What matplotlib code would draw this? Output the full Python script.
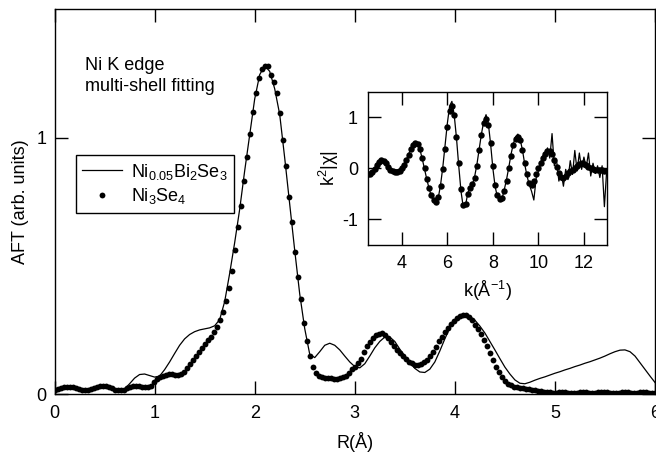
import numpy as np
import matplotlib
matplotlib.use("Agg")
import matplotlib.pyplot as plt

plt.rcParams['font.family'] = ['Liberation Sans', 'DejaVu Sans']
plt.rcParams['mathtext.default'] = 'regular'
plt.rcParams['axes.unicode_minus'] = False

# Fourier transform magnitude, Ni3Se4 (dots, step 0.03 A)
aft_dots = [
    0.015, 0.018, 0.022, 0.026, 0.028, 0.028, 0.026, 0.022, 0.018, 0.015,
    0.014, 0.015, 0.018, 0.023, 0.028, 0.032, 0.033, 0.031, 0.027, 0.022,
    0.017, 0.014, 0.014, 0.017, 0.022, 0.027, 0.031, 0.032, 0.031, 0.028,
    0.026, 0.027, 0.033, 0.045, 0.057, 0.066, 0.072, 0.075, 0.077, 0.077,
    0.076, 0.076, 0.079, 0.087, 0.100, 0.118, 0.133, 0.148, 0.163, 0.180,
    0.196, 0.210, 0.224, 0.240, 0.260, 0.288, 0.320, 0.362, 0.415, 0.480,
    0.560, 0.650, 0.735, 0.830, 0.925, 1.012, 1.100, 1.175, 1.232, 1.266,
    1.280, 1.278, 1.245, 1.215, 1.175, 1.095, 0.990, 0.890, 0.770, 0.670,
    0.555, 0.455, 0.370, 0.275, 0.205, 0.148, 0.105, 0.083, 0.072, 0.067,
    0.064, 0.062, 0.061, 0.060, 0.060, 0.061, 0.065, 0.072, 0.083, 0.096,
    0.107, 0.120, 0.138, 0.163, 0.186, 0.204, 0.218, 0.229, 0.235, 0.236,
    0.229, 0.217, 0.202, 0.187, 0.172, 0.159, 0.147, 0.136, 0.126, 0.119,
    0.115, 0.113, 0.116, 0.123, 0.134, 0.148, 0.165, 0.184, 0.205, 0.224,
    0.242, 0.258, 0.273, 0.285, 0.296, 0.304, 0.309, 0.308, 0.300, 0.287,
    0.270, 0.253, 0.235, 0.212, 0.188, 0.160, 0.132, 0.106, 0.084, 0.066,
    0.051, 0.041, 0.034, 0.029, 0.026, 0.024, 0.022, 0.020, 0.018, 0.016,
    0.014, 0.012, 0.010, 0.009, 0.007, 0.006, 0.005, 0.005, 0.006, 0.007,
    0.006, 0.005, 0.004, 0.004, 0.005, 0.006, 0.007, 0.006, 0.005, 0.004,
    0.005, 0.006, 0.007, 0.007, 0.006, 0.005, 0.004, 0.004, 0.005, 0.006,
    0.007, 0.006, 0.005, 0.004, 0.005, 0.006, 0.007, 0.006, 0.005, 0.004,
    0.004,
]

# Fourier transform magnitude, Ni0.05Bi2Se3 (line, step 0.05 A)
aft_line = [
    0.012, 0.020, 0.026, 0.027, 0.024, 0.018, 0.014, 0.016, 0.024, 0.030,
    0.032, 0.027, 0.018, 0.012, 0.020, 0.040, 0.062, 0.076, 0.078, 0.072,
    0.066, 0.070, 0.095, 0.125, 0.158, 0.190, 0.215, 0.232, 0.243, 0.250,
    0.254, 0.258, 0.266, 0.290, 0.360, 0.470, 0.590, 0.720, 0.870, 1.010,
    1.150, 1.245, 1.280, 1.258, 1.190, 1.090, 0.920, 0.740, 0.560, 0.390,
    0.255, 0.155, 0.142, 0.165, 0.190, 0.198, 0.190, 0.172, 0.148, 0.125,
    0.107, 0.102, 0.118, 0.148, 0.180, 0.205, 0.222, 0.222, 0.205, 0.175,
    0.148, 0.122, 0.100, 0.086, 0.084, 0.097, 0.125, 0.168, 0.215, 0.258,
    0.285, 0.300, 0.306, 0.302, 0.288, 0.265, 0.238, 0.205, 0.172, 0.138,
    0.105, 0.078, 0.055, 0.042, 0.040, 0.046, 0.054, 0.061, 0.067, 0.074,
    0.081, 0.087, 0.094, 0.100, 0.107, 0.113, 0.120, 0.126, 0.133, 0.140,
    0.148, 0.157, 0.165, 0.171, 0.172, 0.165, 0.148, 0.122, 0.096, 0.070,
    0.045,
]

# k^2 chi(k), step 0.1 from 2.5 to 13
chi_dots = [
    -0.12, -0.12, -0.08, -0.01, 0.07, 0.13, 0.16, 0.15, 0.10, 0.03,
    -0.03, -0.06, -0.07, -0.07, -0.05, 0.00, 0.07, 0.16, 0.27, 0.38,
    0.46, 0.49, 0.47, 0.37, 0.20, 0.00, -0.20, -0.38, -0.52, -0.62,
    -0.65, -0.57, -0.35, -0.02, 0.38, 0.80, 1.12, 1.22, 1.05, 0.62,
    0.10, -0.40, -0.72, -0.70, -0.50, -0.38, -0.30, -0.18, 0.05, 0.35,
    0.65, 0.88, 0.96, 0.85, 0.50, 0.05, -0.32, -0.52, -0.60, -0.58,
    -0.45, -0.25, 0.00, 0.25, 0.45, 0.58, 0.62, 0.55, 0.35, 0.10,
    -0.12, -0.28, -0.32, -0.25, -0.12, 0.00, 0.10, 0.20, 0.28, 0.33,
    0.34, 0.28, 0.16, 0.02, -0.10, -0.17, -0.18, -0.15, -0.10, -0.06,
    -0.04, 0.00, 0.05, 0.09, 0.10, 0.09, 0.06, 0.03, 0.00, -0.02,
    -0.03, -0.04, -0.04, -0.04, -0.05, -0.05,
]
chi_line = [
    -0.10, -0.11, -0.07, 0.00, 0.07, 0.12, 0.14, 0.13, 0.09, 0.04,
    -0.01, -0.03, -0.03, -0.03, -0.01, 0.03, 0.09, 0.17, 0.28, 0.39,
    0.47, 0.50, 0.46, 0.36, 0.18, -0.02, -0.22, -0.40, -0.55, -0.65,
    -0.68, -0.58, -0.33, 0.02, 0.45, 0.88, 1.22, 1.31, 1.05, 0.60,
    0.05, -0.45, -0.76, -0.72, -0.48, -0.38, -0.32, -0.16, 0.08, 0.38,
    0.68, 0.92, 1.05, 0.88, 0.48, 0.00, -0.36, -0.56, -0.62, -0.60,
    -0.42, -0.22, 0.02, 0.28, 0.48, 0.62, 0.67, 0.56, 0.36, 0.08,
    -0.15, -0.32, -0.45, -0.62, -0.20, -0.05, 0.12, 0.25, 0.18, 0.40,
    0.20, 0.68, 0.05, 0.15, -0.25, -0.08, -0.35, -0.02, -0.22, 0.15,
    -0.12, 0.35, -0.05, 0.30, -0.02, 0.22, 0.02, 0.30, -0.15, 0.10,
    -0.10, 0.05, -0.18, 0.05, -0.75, -0.05,
]

r_dots = np.linspace(0, 6, len(aft_dots))
r_line = np.linspace(0, 6, len(aft_line))
k_dots = np.linspace(2.5, 13, len(chi_dots))
k_line = np.linspace(2.5, 13, len(chi_line))

fig = plt.figure(figsize=(6.56, 4.53), dpi=100)
ax = fig.add_axes([0.0831, 0.1302, 0.9154, 0.8493])

ax.plot(r_line, aft_line, color='black', lw=0.9, label='Ni$_{0.05}$Bi$_2$Se$_3$')
ax.plot(r_dots, aft_dots, 'o', color='black', ms=4.2, mew=0, label='Ni$_3$Se$_4$')

ax.set_xlim(0, 6)
ax.set_ylim(0, 1.5)
ax.set_xticks([0, 1, 2, 3, 4, 5, 6])
ax.set_yticks([0, 1])
ax.tick_params(direction='in', length=9.5, width=1.0, top=True, right=True,
               labelsize=13, color='black')
ax.tick_params(axis='x', pad=8)
ax.tick_params(axis='y', pad=6)
for s in ax.spines.values():
    s.set_linewidth(1.0)
ax.set_xlabel('R(Å)', fontsize=13, labelpad=7)
ax.set_ylabel('AFT (arb. units)', fontsize=13, labelpad=5)

ax.text(0.051, 0.875, 'Ni K edge\nmulti-shell fitting', transform=ax.transAxes,
        fontsize=13, va='top', ha='left', linespacing=1.25)

leg = ax.legend(loc='upper left', bbox_to_anchor=(0.036, 0.62), borderaxespad=0,
                fancybox=False, edgecolor='black', fontsize=13, handlelength=2.2,
                handletextpad=0.5, borderpad=0.35, labelspacing=0.25, framealpha=1)
leg.get_frame().set_linewidth(1.0)

# inset
ins = fig.add_axes([0.5605, 0.4592, 0.3643, 0.3384])
ins.plot(k_line, chi_line, color='black', lw=0.9)
ins.plot(k_dots, chi_dots, 'o', color='black', ms=4.6, mew=0)
ins.set_xlim(2.5, 13)
ins.set_ylim(-1.5, 1.5)
ins.set_xticks([4, 6, 8, 10, 12])
ins.set_yticks([-1, 0, 1])
ins.tick_params(direction='in', length=9.5, width=1.0, top=True, right=True,
                labelsize=13, color='black')
ins.tick_params(axis='x', pad=7)
ins.tick_params(axis='y', pad=7)
for s in ins.spines.values():
    s.set_linewidth(1.0)
ins.set_xlabel('k(Å$^{-1}$)', fontsize=13, labelpad=5.5)
ins.set_ylabel('k$^2$|χ|', fontsize=13, labelpad=1)

fig.savefig('out.png', dpi=100)
